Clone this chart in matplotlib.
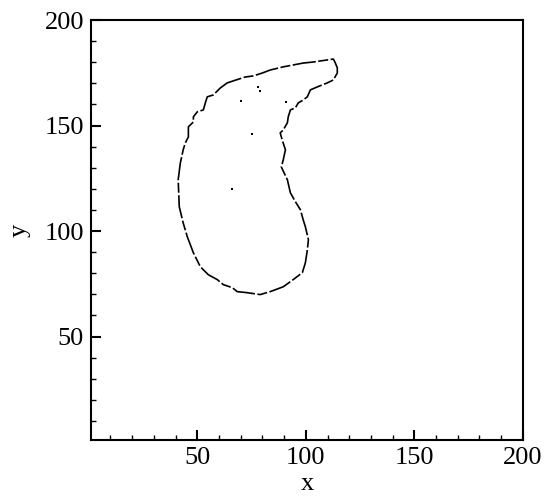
import matplotlib

matplotlib.use("Agg")
import matplotlib.pyplot as plt
from matplotlib.ticker import MultipleLocator

# outline of the region, traced clockwise from the upper-left edge
contour_x = [
    60.6, 63.8, 67.9, 72.1, 75.8, 80.0, 83.6, 89.6, 94.2, 98.8, 103.5, 106.7, 112.7,
    113.6, 114.5, 114.5, 112.7, 109.9, 105.3, 102.1, 100.7, 98.8, 96.5, 95.2, 92.9,
    91.9, 91.5, 89.6, 88.2, 89.1, 90.6, 89.6, 88.7, 91.5, 92.9, 95.2, 97.5, 98.8,
    99.8, 101.2, 100.7, 99.8, 98.4, 94.2, 89.6, 83.6, 79.0, 73.0, 68.4, 66.1, 62.0,
    59.2, 55.1, 51.4, 48.2, 45.4, 43.5, 41.7, 41.2, 42.2, 43.5, 44.5, 45.9, 45.9,
    48.2, 48.2, 50.0, 52.8, 53.7, 54.6, 57.4, 60.6,
]
contour_y = [
    167.8, 170.2, 171.6, 173.0, 173.5, 174.9, 176.3, 177.8, 178.7, 179.6, 180.1, 180.6, 181.5,
    179.6, 177.3, 174.9, 171.6, 170.2, 168.3, 166.9, 163.6, 162.1, 160.7, 158.4, 157.4,
    154.1, 151.3, 147.9, 146.5, 143.2, 138.5, 133.7, 130.4, 124.3, 118.1, 113.9, 110.1, 105.3,
    102.0, 95.9, 91.1, 85.0, 80.3, 77.0, 73.6, 71.3, 69.9, 70.8, 71.3, 73.2, 74.6,
    77.0, 79.3, 83.1, 89.7, 97.3, 103.9, 111.5, 124.3, 132.3, 138.5, 141.8, 144.6, 149.4,
    151.7, 154.1, 156.5, 157.4, 160.7, 163.6, 164.5, 167.8,
]

# isolated specks inside the region
speck_x = [78.1, 79.0, 91.0, 70.3, 75.3, 66.1]
speck_y = [168.3, 166.4, 161.2, 161.7, 146.0, 120.0]

x_ticks = [50, 100, 150, 200]
y_ticks = [50, 100, 150, 200]

plt.rcParams["font.family"] = ["Liberation Serif", "DejaVu Serif"]

fig = plt.figure(figsize=(5.51, 5.0), dpi=100)
ax = fig.add_axes([0.165, 0.12, 0.784, 0.84])

ax.plot(contour_x, contour_y, color="black", linewidth=1.2,
        linestyle=(0, (14, 1.5, 6, 1.5)), solid_capstyle="butt")
ax.scatter(speck_x, speck_y, s=3, color="black", marker="s", linewidths=0)

ax.set_xlim(1, 200)
ax.set_ylim(1, 200)
ax.set_xticks(x_ticks)
ax.set_yticks(y_ticks)
ax.xaxis.set_minor_locator(MultipleLocator(10))
ax.yaxis.set_minor_locator(MultipleLocator(10))
ax.tick_params(which="both", direction="in", top=False, right=False,
               labelsize=19, width=1.5, pad=5)
ax.tick_params(which="major", length=7)
ax.tick_params(which="minor", length=3.5, width=1)
for spine in ax.spines.values():
    spine.set_linewidth(1.5)

ax.set_xlabel("x", fontsize=19, labelpad=3)
ax.set_ylabel("y", fontsize=19, labelpad=10)

fig.savefig("out.png", dpi=100)
